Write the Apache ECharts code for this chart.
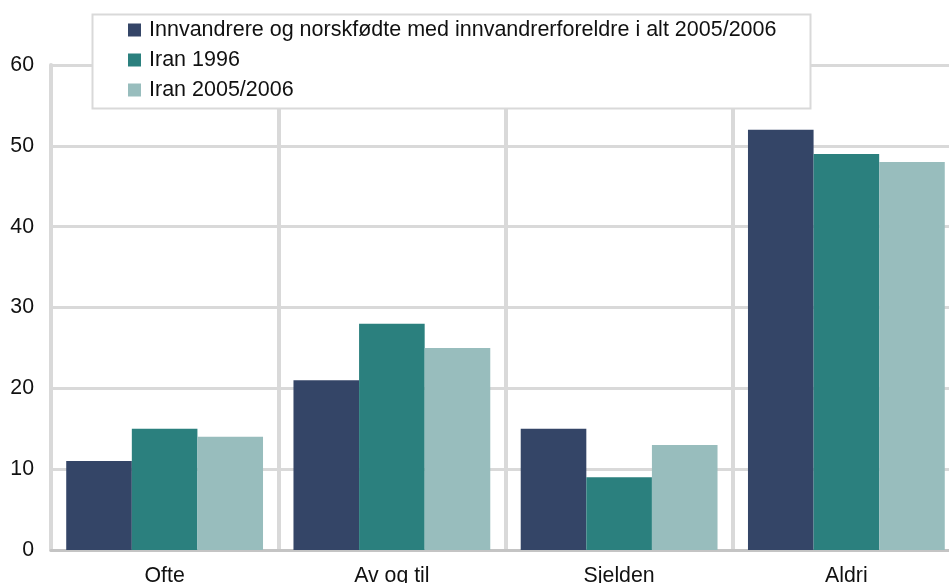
<!DOCTYPE html>
<html>
<head>
<meta charset="utf-8">
<script src="https://cdn.jsdelivr.net/npm/echarts@6/dist/echarts.min.js"></script>
<style>
html,body{margin:0;padding:0;background:#fff;}
#chart{width:949px;height:583px;}
</style>
</head>
<body>
<div id="chart"></div>
<script>
const categories = ['Ofte', 'Av og til', 'Sjelden', 'Aldri'];
const seriesNames = ['Innvandrere og norskfødte med innvandrerforeldre i alt 2005/2006', 'Iran 1996', 'Iran 2005/2006'];
const totalAll = [11, 21, 15, 52];
const iran1996 = [15, 28, 9, 49];
const iran2005 = [14, 25, 13, 48];
const colors = ['#344567', '#2b807e', '#98bdbd'];

const FONT = '"Liberation Sans", Arial, sans-serif';
const chart = echarts.init(document.getElementById('chart'), null, {renderer: 'canvas'});
const dataSets = [totalAll, iran1996, iran2005];
chart.setOption({
  animation: false,
  backgroundColor: '#ffffff',
  color: colors,
  textStyle: {fontFamily: FONT},
  grid: {left: 51, width: 909, top: 65, bottom: 33, containLabel: false, outerBoundsMode: 'none'},
  graphic: [{
    type: 'rect',
    z: 50,
    shape: {x: 92.5, y: 14.5, width: 718, height: 94},
    style: {fill: '#ffffff', stroke: '#d9d9d9', lineWidth: 2}
  }],
  legend: {
    z: 60,
    orient: 'vertical',
    left: 128,
    top: 19,
    padding: 0,
    itemWidth: 13,
    itemHeight: 13,
    itemGap: 8,
    icon: 'rect',
    textStyle: {fontSize: 21.5, color: '#111', fontFamily: FONT, padding: [0, 0, 0, 3]},
    data: seriesNames
  },
  xAxis: {
    type: 'category',
    data: categories,
    boundaryGap: true,
    axisLine: {show: true, lineStyle: {color: '#c4c4c4', width: 3}},
    axisTick: {show: false},
    axisLabel: {fontSize: 21.3, color: '#111', margin: 15.5, fontFamily: FONT},
    splitLine: {show: true, lineStyle: {color: '#d9d9d9', width: 4}}
  },
  yAxis: {
    type: 'value',
    min: 0,
    max: 60,
    interval: 10,
    axisLine: {show: true, lineStyle: {color: '#d9d9d9', width: 4}},
    axisTick: {show: false},
    axisLabel: {fontSize: 21.3, color: '#111', margin: 17, fontFamily: FONT},
    splitLine: {show: true, lineStyle: {color: '#d9d9d9', width: 3}}
  },
  series: seriesNames.map((n, i) => ({
    name: n,
    type: 'bar',
    data: dataSets[i],
    barGap: '0%',
    barCategoryGap: '13.4%',
    itemStyle: {color: colors[i]}
  }))
});
</script>
</body>
</html>
